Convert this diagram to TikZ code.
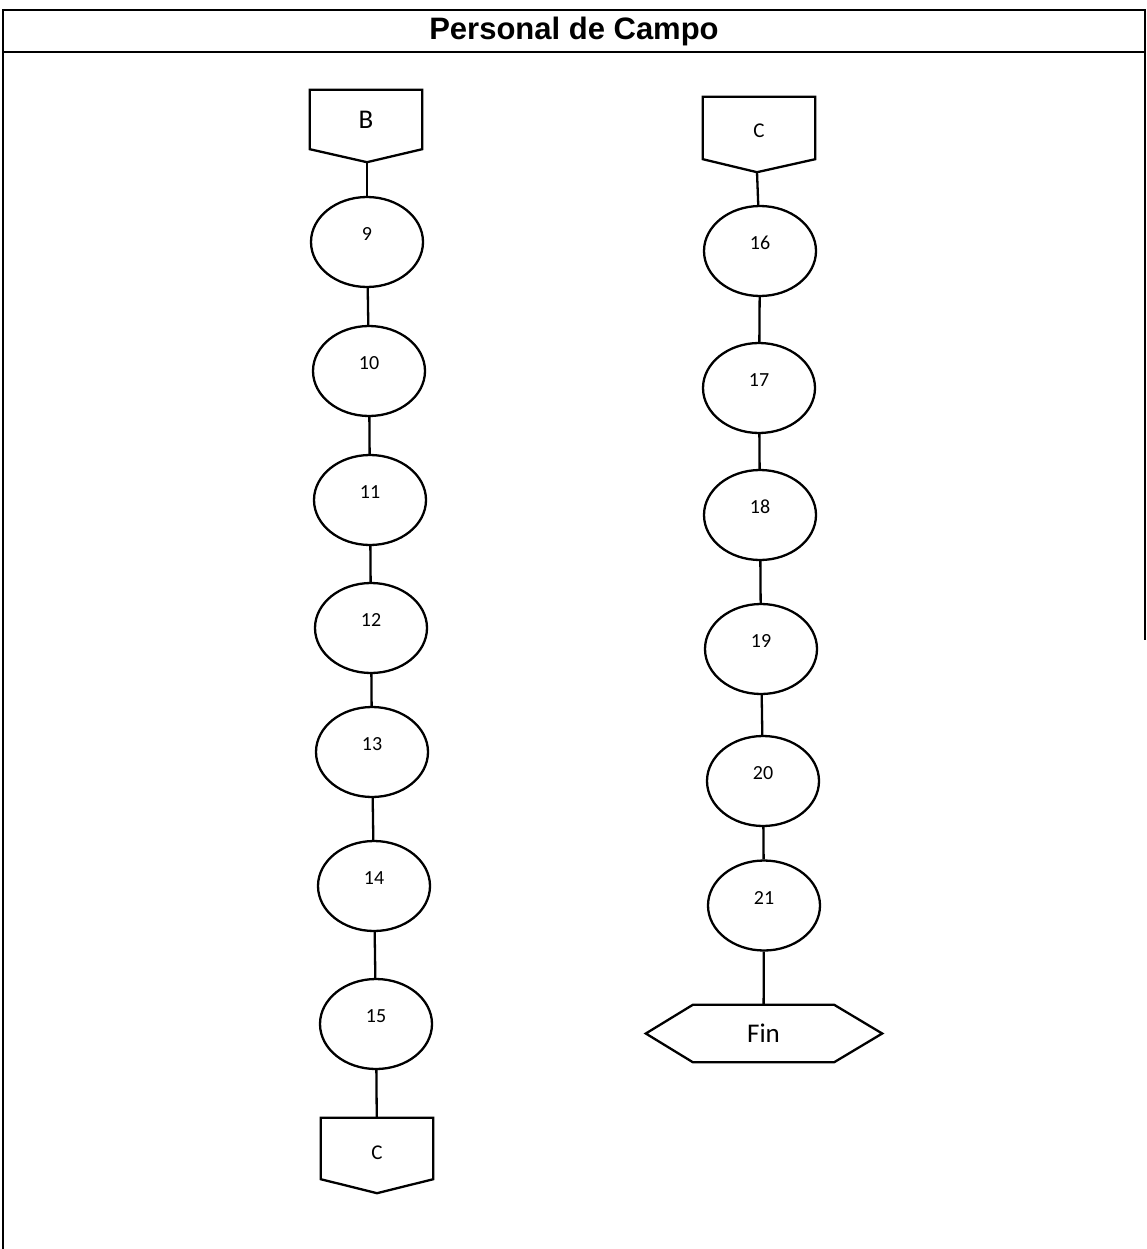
\documentclass[tikz,border=0pt]{standalone}
\usepackage{fontspec}
\setmainfont{Carlito}
\newfontfamily\titlefont{Liberation Sans}
\usetikzlibrary{shapes.geometric,calc}
\begin{document}
\begin{tikzpicture}[x=1pt,y=-1pt,
  frame/.style={line width=1.6pt},
  proc/.style={ellipse,draw,line width=2.3pt,minimum width=112pt,minimum height=90pt,inner sep=0pt,
    font=\fontsize{20}{20}\selectfont,text depth=16pt},
  conn/.style={line width=2.3pt},
  offtxt/.style={rectangle,minimum width=112pt,inner sep=0pt},
  outline/.style={draw,line width=2.3pt,line join=miter}]
\useasboundingbox (0,0) rectangle (1147,1249);
% frame
\draw[frame] (3,1249) -- (3,10) -- (1145,10) -- (1145,640);
\draw[frame] (3,52) -- (1145,52);
\node[anchor=base,inner sep=0pt,font=\fontsize{31}{31}\selectfont\titlefont\bfseries] (title) at (574,40) {Personal de Campo};

% left column
\node[offtxt,minimum height=59pt,font=\fontsize{27}{27}\selectfont] (B) at (366,119.5) {B};
\coordinate (Btip) at ($(B.south)+(1,13)$);
\draw[outline] (B.north west) -- (B.north east) -- (B.south east) -- (Btip) -- (B.south west) -- cycle;

\node[proc] (n9)  at (367,242)  {9};
\node[proc] (n10) at (369,371)  {10};
\node[proc] (n11) at (370,500)  {11};
\node[proc] (n12) at (371,628)  {12};
\node[proc] (n13) at (372,752)  {13};
\node[proc] (n14) at (374,886)  {14};
\node[proc] (n15) at (376,1024) {15};

\node[offtxt,minimum height=61pt,font=\fontsize{21}{21}\selectfont] (Cb) at (377,1148.5) {\raisebox{-10.5pt}[0pt][0pt]{C}};
\coordinate (Cbtip) at ($(Cb.south)+(0,14)$);
\draw[outline] (Cb.north west) -- (Cb.north east) -- (Cb.south east) -- (Cbtip) -- (Cb.south west) -- cycle;

\draw[conn] (Btip) -- (n9);
\draw[conn] (n9) -- (n10);
\draw[conn] (n10) -- (n11);
\draw[conn] (n11) -- (n12);
\draw[conn] (n12) -- (n13);
\draw[conn] (n13) -- (n14);
\draw[conn] (n14) -- (n15);
\draw[conn] (n15) -- (Cb);

% right column
\node[offtxt,minimum height=62pt,font=\fontsize{21}{21}\selectfont] (Ct) at (759,128) {\raisebox{-9.5pt}[0pt][0pt]{C}};
\coordinate (Cttip) at ($(Ct.south)+(-2,13)$);
\draw[outline] (Ct.north west) -- (Ct.north east) -- (Ct.south east) -- (Cttip) -- (Ct.south west) -- cycle;

\node[proc] (n16) at (760,251)  {16};
\node[proc] (n17) at (759,388)  {17};
\node[proc] (n18) at (760,515)  {18};
\node[proc] (n19) at (761,649)  {19};
\node[proc] (n20) at (763,781)  {20};
\node[proc] (n21) at (764,905.5) {21};

\node[rectangle,inner sep=0pt,minimum width=141pt,minimum height=57pt,font=\fontsize{27}{27}\selectfont] (fin) at (763.5,1033.5) {Fin};
\draw[outline] (fin.north west) -- (fin.north east) -- ($(fin.east)+(48,0)$) -- (fin.south east) -- (fin.south west) -- ($(fin.west)+(-47,0)$) -- cycle;

\draw[conn] (Cttip) -- (n16);
\draw[conn] (n16) -- (n17);
\draw[conn] (n17) -- (n18);
\draw[conn] (n18) -- (n19);
\draw[conn] (n19) -- (n20);
\draw[conn] (n20) -- (n21);
\draw[conn] (n21) -- (fin);
\end{tikzpicture}
\end{document}
